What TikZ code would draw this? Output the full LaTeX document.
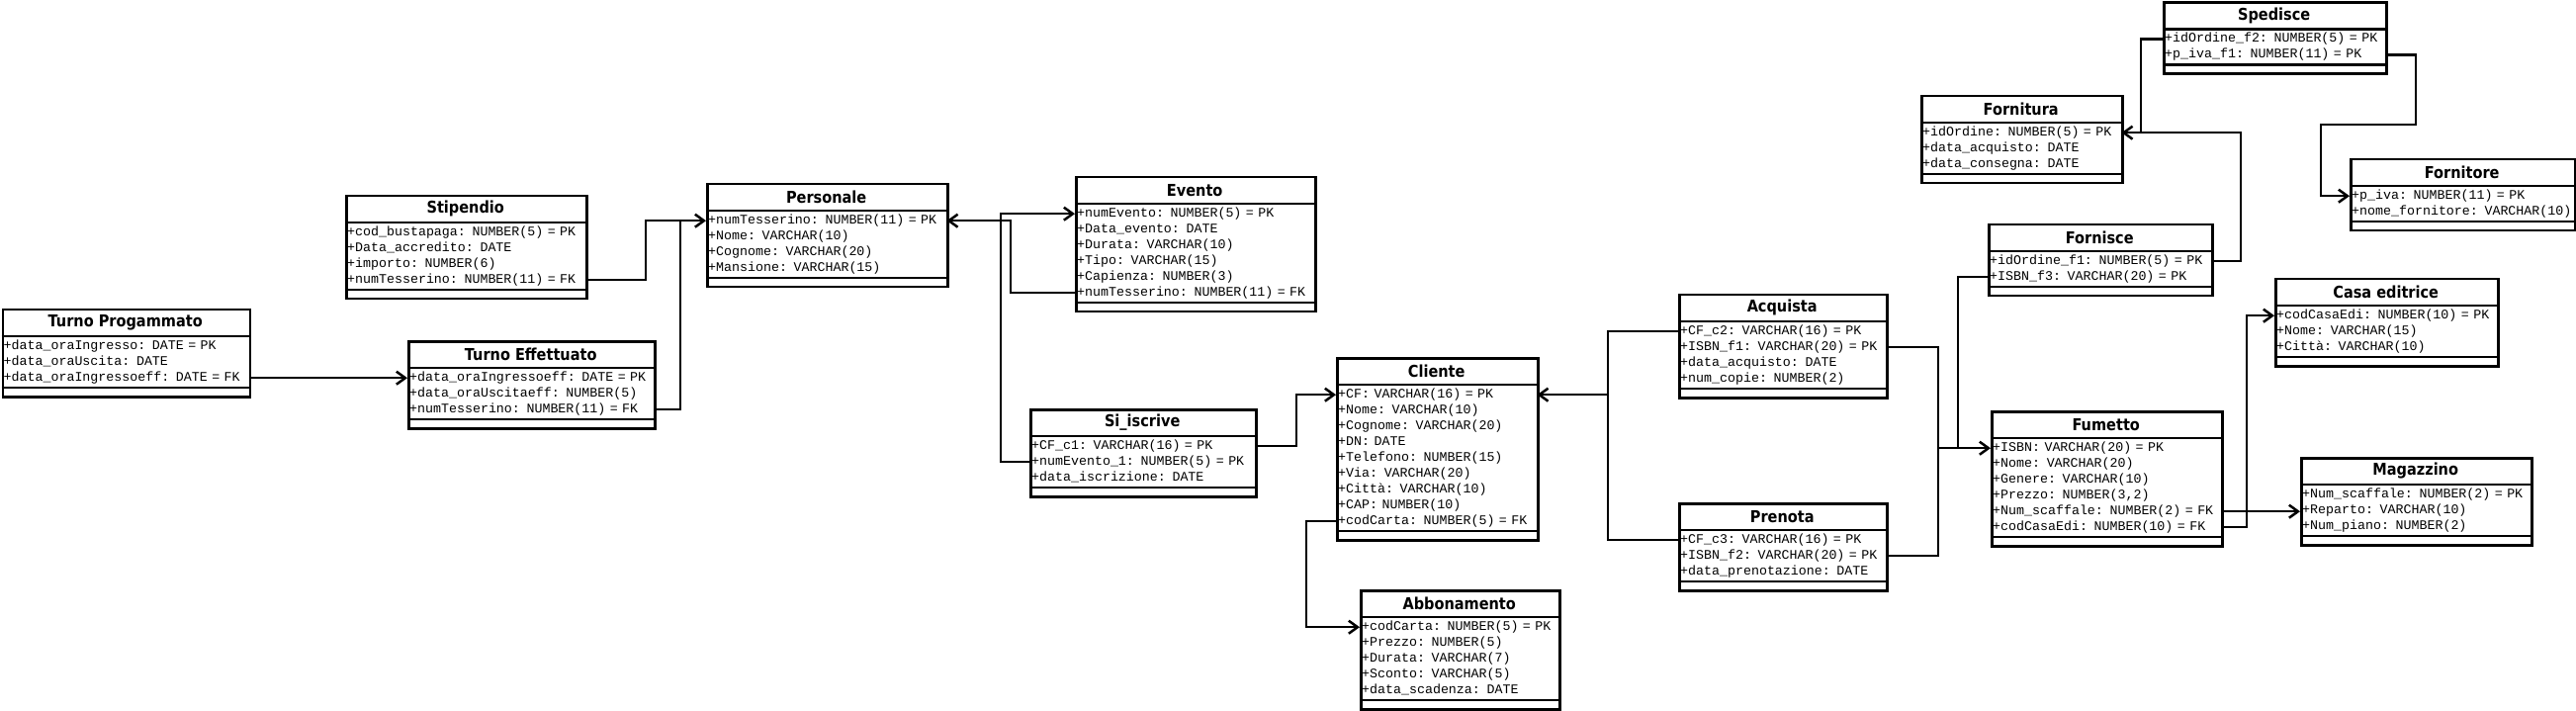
\documentclass[tikz,border=0pt]{standalone}
\usepackage{fontspec}
\setmonofont{Liberation Mono}
\newfontfamily\ttlfont{DejaVu Sans}[FakeStretch=0.88]
\usetikzlibrary{arrows.meta,calc}
\tikzset{
  boxline/.style={draw=black, line width=2.5pt},
  ttl/.style={inner sep=0pt, minimum height=28pt, font=\ttlfont\bfseries\fontsize{16.5}{17}\selectfont, anchor=north west},
  attr/.style={inner xsep=2pt, inner ysep=0pt, minimum height=16pt, text height=9pt, text depth=2.5pt, align=left, font=\ttfamily\fontsize{13.3}{15}\selectfont, anchor=north west},
  conn/.style={line width=2.5pt, draw=black},
  arr/.style={conn, -{Straight Barb[length=9pt,width=13pt]}},
}
% #1 name, #2 left, #3 top, #4 width, #5 rows, #6 title, #7 rows list
\newcommand{\ent}[7]{%
  \node[boxline, anchor=north west, minimum width=#4pt, minimum height={40pt+16pt*#5}, inner sep=0pt, fill=white] (#1) at (#2,#3) {};
  \node[ttl, minimum width=#4pt] (#1-t) at (#2,#3) {#6};
  \draw[boxline] (#2,{#3+28}) -- ++(#4,0);
  \foreach \r [count=\i] in {#7} {
    \node[attr, text width={#4pt-4pt}] (#1-\i) at (#2,{#3+30+16*(\i-1)}) {\mbox{\r}};
  }
  \draw[boxline] (#2,{#3+32+16*#5}) -- ++(#4,0);
}
\begin{document}
\begin{tikzpicture}[x=1pt,y=-1pt]
\fill[white] (0,0) rectangle (2605,719);
\useasboundingbox (0,0) rectangle (2605,719);

\ent{tp}{1.5}{312}{250}{3}{Turno Progammato}{+data\_oraIngresso: DATE = PK, +data\_oraUscita: DATE, +data\_oraIngressoeff: DATE = FK}
\ent{st}{349}{197}{243}{4}{Stipendio}{+cod\_bustapaga: NUMBER(5) = PK, +Data\_accredito: DATE, +importo: NUMBER(6), +numTesserino: NUMBER(11) = FK}
\ent{te}{412}{344}{249}{3}{Turno Effettuato}{+data\_oraIngressoeff: DATE = PK, +data\_oraUscitaeff: NUMBER(5), +numTesserino: NUMBER(11) = FK}
\ent{pe}{714}{185}{243}{4}{Personale}{+numTesserino: NUMBER(11) = PK, +Nome: VARCHAR(10), +Cognome: VARCHAR(20), +Mansione: VARCHAR(15)}
\ent{ev}{1087}{178}{242}{6}{Evento}{+numEvento: NUMBER(5) = PK, +Data\_evento: DATE, +Durata: VARCHAR(10), +Tipo: VARCHAR(15), +Capienza: NUMBER(3), +numTesserino: NUMBER(11) = FK}
\ent{si}{1041}{413}{228}{3}{Si\_iscrive}{+CF\_c1: VARCHAR(16) = PK, +numEvento\_1: NUMBER(5) = PK, +data\_iscrizione: DATE}
\ent{cl}{1351}{361}{203}{9}{Cliente}{+CF: VARCHAR(16) = PK, +Nome: VARCHAR(10), +Cognome: VARCHAR(20), +DN: DATE, +Telefono: NUMBER(15), +Via: VARCHAR(20), +Città: VARCHAR(10), +CAP: NUMBER(10), +codCarta: NUMBER(5) = FK}
\ent{ab}{1375}{596}{201}{5}{Abbonamento}{+codCarta: NUMBER(5) = PK, +Prezzo: NUMBER(5), +Durata: VARCHAR(7), +Sconto: VARCHAR(5), +data\_scadenza: DATE}
\ent{aq}{1697}{297}{210}{4}{Acquista}{+CF\_c2: VARCHAR(16) = PK, +ISBN\_f1: VARCHAR(20) = PK, +data\_acquisto: DATE, +num\_copie: NUMBER(2)}
\ent{pr}{1697}{508}{210}{3}{Prenota}{+CF\_c3: VARCHAR(16) = PK, +ISBN\_f2: VARCHAR(20) = PK, +data\_prenotazione: DATE}
\ent{sp}{2187}{1.5}{225}{2}{Spedisce}{+idOrdine\_f2: NUMBER(5) = PK, +p\_iva\_f1: NUMBER(11) = PK}
\ent{fu}{1942}{96}{203}{3}{Fornitura}{+idOrdine: NUMBER(5) = PK, +data\_acquisto: DATE, +data\_consegna: DATE}
\ent{fo}{2376}{160}{227}{2}{Fornitore}{+p\_iva: NUMBER(11) = PK, +nome\_fornitore: VARCHAR(10)}
\ent{fs}{2010}{226}{226}{2}{Fornisce}{+idOrdine\_f1: NUMBER(5) = PK, +ISBN\_f3: VARCHAR(20) = PK}
\ent{ce}{2300}{281}{225}{3}{Casa editrice}{+codCasaEdi: NUMBER(10) = PK, +Nome: VARCHAR(15), +Città: VARCHAR(10)}
\ent{fm}{2013}{415}{233}{6}{Fumetto}{+ISBN: VARCHAR(20) = PK, +Nome: VARCHAR(20), +Genere: VARCHAR(10), {+Prezzo: NUMBER(3,2)}, +Num\_scaffale: NUMBER(2) = FK, +codCasaEdi: NUMBER(10) = FK}
\ent{mg}{2326}{462}{233}{3}{Magazzino}{+Num\_scaffale: NUMBER(2) = PK, +Reparto: VARCHAR(10), +Num\_piano: NUMBER(2)}

% bend coordinates
\coordinate (k1) at (653,0);
\coordinate (k2) at (688,0);
\coordinate (k3) at (1022,0);
\coordinate (k4) at (1012,0);
\coordinate (k5) at (1311,0);
\coordinate (k6) at (1321,0);
\coordinate (k7) at (1626,0);
\coordinate (k8) at (1960,0);
\coordinate (k9) at (1980,0);
\coordinate (k10) at (2165,0);
\coordinate (k11) at (2266,0);
\coordinate (k12) at (2443,126);
\coordinate (k13) at (2347,126);
\coordinate (k14) at (2272,0);

\draw[arr] (tp-3.east) -- (te-1.west);
\draw[arr] (st-4.east) -| (k1 |- pe-1.west) -- (pe-1.west);
\draw[conn] (te-3.east) -| (k2 |- pe-1.west);
\draw[arr] (ev-6.west) -| (k3 |- pe-1.east) -- (pe-1.east);
\draw[arr] (si-2.west) -| (k4 |- ev-1.west) -- (ev-1.west);
\draw[arr] (si-1.east) -| (k5 |- cl-1.west) -- (cl-1.west);
\draw[arr] (cl-9.west) -| (k6 |- ab-1.west) -- (ab-1.west);
\draw[arr] (aq-1.west) -| (k7 |- cl-1.east) -- (cl-1.east);
\draw[conn] (pr-1.west) -| (k7 |- cl-1.east);
\draw[arr] (aq-2.east) -| (k8 |- fm-1.west) -- (fm-1.west);
\draw[conn] (pr-2.east) -| (k8 |- fm-1.west);
\draw[conn] (fs-2.west) -| (k9 |- fm-1.west);
\draw[arr] (fs-1.east) -| (k11 |- fu-1.east) -- (fu-1.east);
\draw[conn] (sp-1.west) -| (k10 |- fu-1.east);
\draw[arr] (sp-2.east) -| (k12) -- (k13) |- (fo-1.west);
\draw[arr] (fm-5.east) -- (fm-5.east -| mg-2.west);
\draw[arr] (fm-6.east) -| (k14 |- ce-1.west) -- (ce-1.west);
\end{tikzpicture}
\end{document}
